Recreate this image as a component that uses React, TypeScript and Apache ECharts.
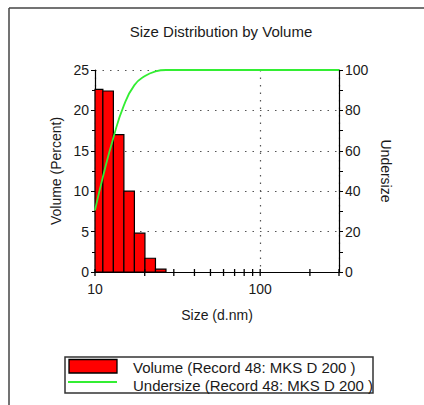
import React, { useEffect, useRef } from "react";
import * as echarts from "echarts";

const titleText = "Size Distribution by Volume";
const xName = "Size (d.nm)";
const yLeftName = "Volume (Percent)";
const yRightName = "Undersize";
const volumeLabel = "Volume (Record 48: MKS D 200 )";
const undersizeLabel = "Undersize (Record 48: MKS D 200 )";

// size-class edges (d.nm) and volume % per class
const sizeEdges = [9.64, 11.16, 12.92, 14.96, 17.32, 20.06, 23.23, 26.9];
const volumePct = [22.6, 22.4, 17.0, 10.0, 4.8, 1.7, 0.35];

// cumulative undersize curve
const undersizeSizes = [10, 11.16, 12.92, 14.96, 17.32, 20.06, 23.23, 26.9, 35, 300];
const undersizePct = [30.5, 47, 66.5, 82.5, 92.5, 97, 99.3, 100, 100, 100];

const xTickValues = [10, 20, 30, 40, 50, 60, 70, 80, 90, 100, 200, 300];

const FONT = "'Liberation Sans', Arial, sans-serif";
const TXT = "#1a1a1a";

export default function App() {
  const ref = useRef<HTMLDivElement>(null);
  useEffect(() => {
    if (!ref.current) return;
    const chart = echarts.init(ref.current, null, { renderer: "svg" });
    const barData = volumePct.map((v, i) => [sizeEdges[i], sizeEdges[i + 1], v]);
    const lineData = undersizeSizes.map((s, i) => [s, undersizePct[i]]);
    const dotted = { color: "#555", width: 1.2, type: [1.5, 6] as any };
    chart.setOption({
      animation: false,
      textStyle: { fontFamily: FONT },
      grid: { left: 95, right: 85, top: 70, bottom: 133 },
      xAxis: {
        type: "log",
        logBase: 10,
        min: 10,
        max: 300,
        name: xName,
        nameLocation: "middle",
        nameGap: 36,
        nameTextStyle: { fontSize: 14, color: TXT, fontFamily: FONT },
        axisLine: { show: true, onZero: false, lineStyle: { color: "#000", width: 1.2 } },
        axisTick: { show: false },
        axisLabel: {
          fontSize: 14,
          color: TXT,
          fontFamily: FONT,
          margin: 10,
          showMaxLabel: false,
          formatter: (v: number) => {
            const l = Math.log10(v);
            return Math.abs(l - Math.round(l)) < 1e-6 ? String(Math.round(v)) : "";
          },
        },
        splitLine: { show: true, lineStyle: dotted },
      },
      yAxis: [
        {
          type: "value",
          min: 0,
          max: 25,
          interval: 5,
          name: yLeftName,
          nameLocation: "middle",
          nameGap: 32,
          nameTextStyle: { fontSize: 14, color: TXT, fontFamily: FONT },
          axisLine: { show: true, lineStyle: { color: "#000", width: 1.2 } },
          axisTick: { show: true, length: 4, lineStyle: { color: "#000" } },
          minorTick: { show: true, splitNumber: 2, length: 3, lineStyle: { color: "#000" } },
          axisLabel: { fontSize: 14, color: TXT, fontFamily: FONT, margin: 6 },
          splitLine: { show: true, lineStyle: dotted },
        },
        {
          type: "value",
          min: 0,
          max: 100,
          interval: 20,
          position: "right",
          name: yRightName,
          nameLocation: "middle",
          nameRotate: -90,
          nameGap: 38,
          nameTextStyle: { fontSize: 14, color: TXT, fontFamily: FONT },
          axisLine: { show: true, lineStyle: { color: "#000", width: 1.2 } },
          axisTick: { show: true, length: 4, lineStyle: { color: "#000" } },
          minorTick: { show: true, splitNumber: 2, length: 4, lineStyle: { color: "#000" } },
          axisLabel: { fontSize: 14, color: TXT, fontFamily: FONT, margin: 6 },
          splitLine: { show: false },
        },
      ],
      series: [
        {
          type: "custom",
          name: volumeLabel,
          yAxisIndex: 0,
          data: barData,
          encode: { x: [0, 1], y: 2 },
          renderItem: (params: any, api: any) => {
            const lo = api.value(0);
            const hi = api.value(1);
            const v = api.value(2);
            const p0 = api.coord([lo, v]);
            const p1 = api.coord([hi, 0]);
            const cs = params.coordSys;
            const shape = echarts.graphic.clipRectByRect(
              { x: p0[0], y: p0[1], width: p1[0] - p0[0], height: p1[1] - p0[1] },
              { x: cs.x, y: cs.y, width: cs.width, height: cs.height }
            );
            if (!shape) return null;
            return {
              type: "rect",
              shape,
              style: { fill: "#ff0000", stroke: "#000", lineWidth: 1.2 },
            };
          },
        },
        {
          type: "line",
          name: undersizeLabel,
          yAxisIndex: 1,
          data: lineData,
          showSymbol: false,
          symbol: "none",
          smooth: 0.5,
          lineStyle: { color: "#33ee33", width: 1.8 },
          z: 5,
        },
        {
          type: "custom",
          name: "xticks",
          yAxisIndex: 0,
          data: xTickValues.map((v) => [v, 0]),
          encode: { x: 0, y: 1 },
          renderItem: (_params: any, api: any) => {
            const p = api.coord([api.value(0), 0]);
            return {
              type: "line",
              shape: { x1: p[0], y1: p[1] - 3, x2: p[0], y2: p[1] + 4 },
              style: { stroke: "#000", lineWidth: 1.3 },
            };
          },
          z: 6,
        },
      ],
      graphic: [
        { type: "line", shape: { x1: 9, y1: 8, x2: 424, y2: 8 }, style: { stroke: "#444", lineWidth: 1.5 } },
        { type: "line", shape: { x1: 9, y1: 8, x2: 9, y2: 405 }, style: { stroke: "#444", lineWidth: 1.5 } },
        {
          type: "text",
          x: 221,
          y: 31,
          style: {
            text: titleText,
            font: `15px ${FONT}`,
            fill: TXT,
            align: "center",
            verticalAlign: "middle",
          },
        },
        {
          type: "rect",
          shape: { x: 65, y: 357, width: 308, height: 36 },
          style: { fill: "#fff", stroke: "#333", lineWidth: 1.5 },
        },
        {
          type: "rect",
          shape: { x: 69, y: 359.5, width: 48, height: 13.5 },
          style: { fill: "#ff0000", stroke: "#000", lineWidth: 1.3 },
        },
        {
          type: "line",
          shape: { x1: 68, y1: 382, x2: 117, y2: 382 },
          style: { stroke: "#33ee33", lineWidth: 1.8 },
        },
        {
          type: "text",
          x: 133,
          y: 367,
          style: { text: volumeLabel, font: `15px ${FONT}`, fill: TXT, verticalAlign: "middle" },
        },
        {
          type: "text",
          x: 133,
          y: 385,
          style: { text: undersizeLabel, font: `15px ${FONT}`, fill: TXT, verticalAlign: "middle" },
        },
      ],
    });
    return () => chart.dispose();
  }, []);
  return (
    <div
      ref={ref}
      style={{ position: "fixed", left: 0, top: 0, width: 424, height: 405, background: "#fff" }}
    />
  );
}
